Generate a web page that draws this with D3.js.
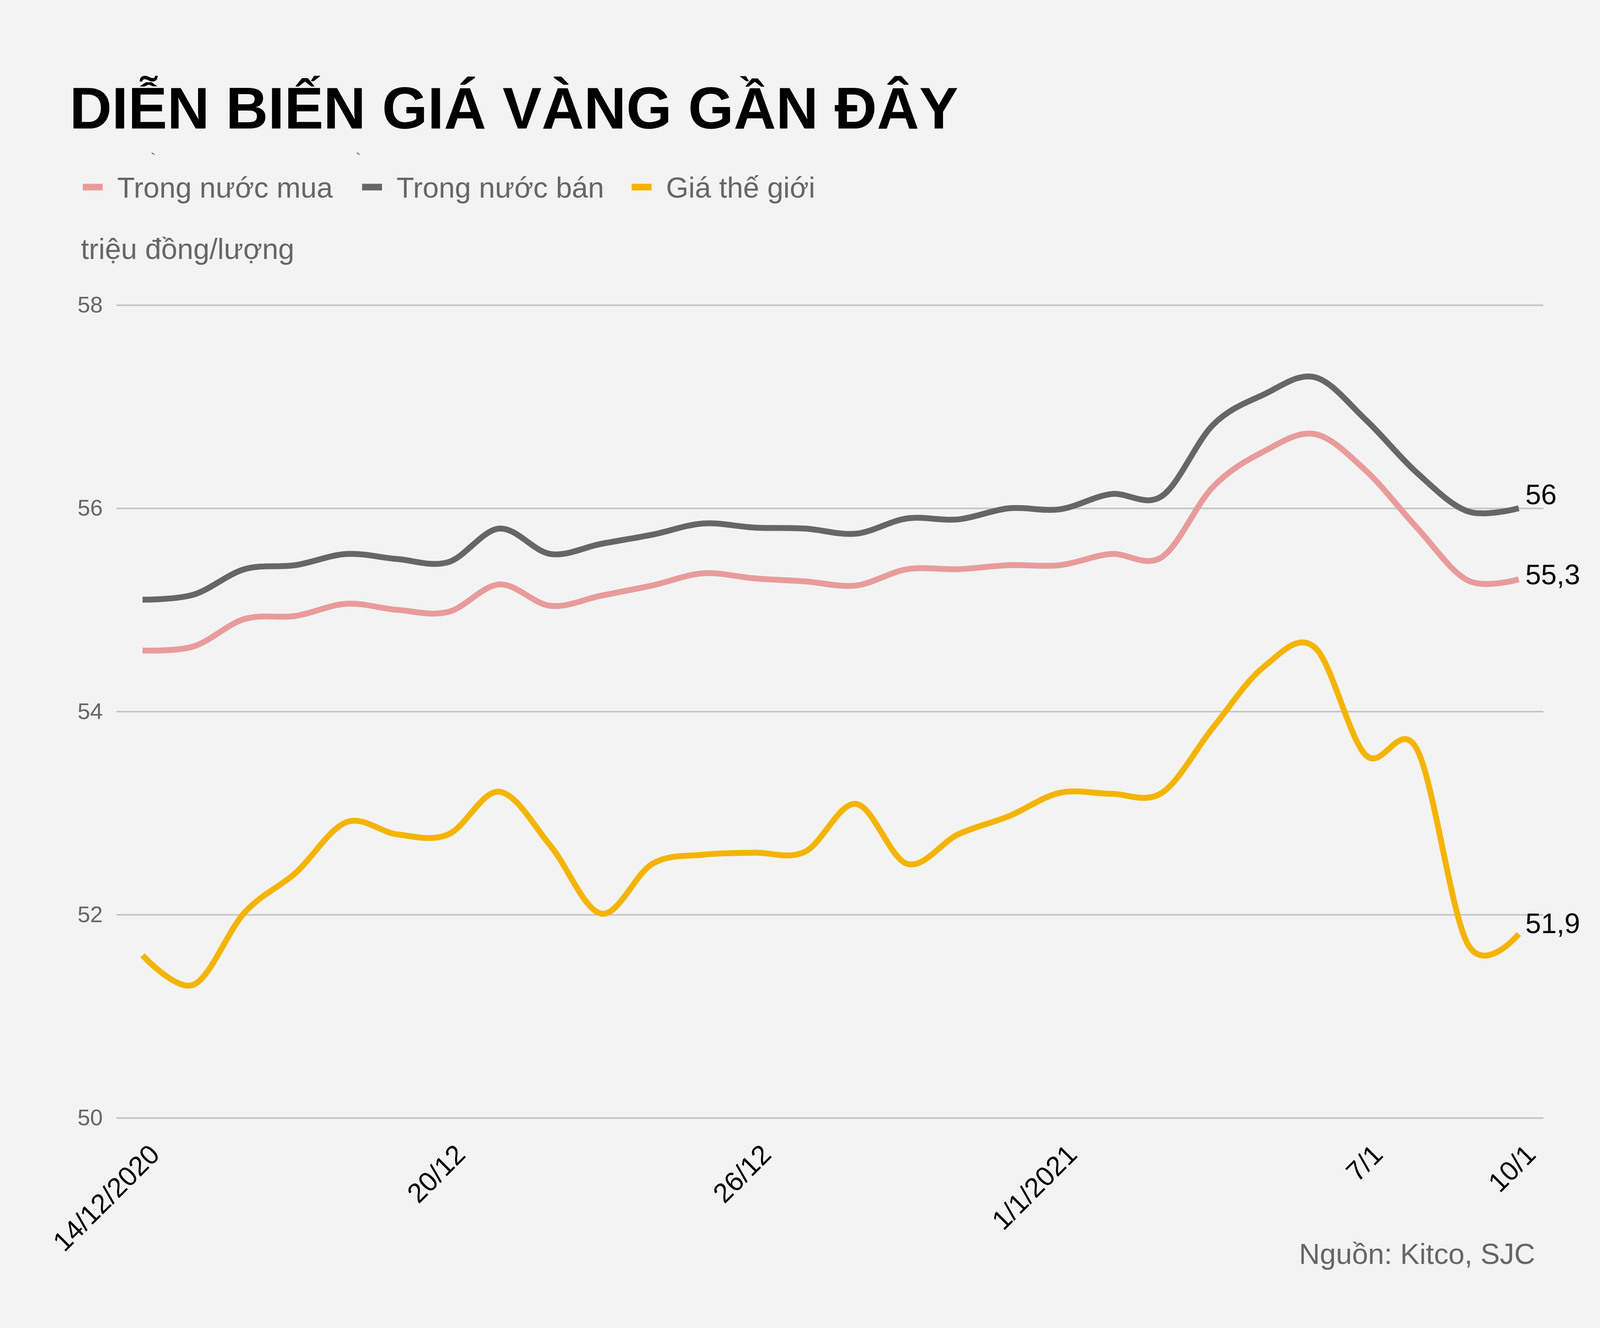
<!DOCTYPE html>
<html>
<head>
<meta charset="utf-8">
<script src="https://cdn.jsdelivr.net/npm/d3@7"></script>
<style>
  body { margin: 0; background: #f3f3f3; }
  svg { display: block; font-family: "Liberation Sans", Arial, sans-serif; }
</style>
</head>
<body>
<div class="viz"></div>
<script>
const width = 4175;
const height = 3400;

// one point per day, 14/12/2020 -> 10/1/2021
const days = [
  "14/12", "15/12", "16/12", "17/12", "18/12", "19/12", "20/12", "21/12",
  "22/12", "23/12", "24/12", "25/12", "26/12", "27/12", "28/12", "29/12",
  "30/12", "31/12", "1/1", "2/1", "3/1", "4/1", "5/1", "6/1", "7/1", "8/1",
  "9/1", "10/1"
];

const seriesNames = ["Trong nước mua", "Trong nước bán", "Giá thế giới"];

const muaValues = [
  54.6, 54.64, 54.91, 54.94, 55.06, 55.0, 54.98, 55.25, 55.04, 55.14,
  55.24, 55.36, 55.31, 55.28, 55.24, 55.4, 55.4, 55.44, 55.44, 55.55,
  55.52, 56.21, 56.56, 56.73, 56.37, 55.81, 55.29, 55.3
];

const banValues = [
  55.1, 55.15, 55.4, 55.44, 55.55, 55.5, 55.47, 55.8, 55.55, 55.65,
  55.74, 55.85, 55.81, 55.8, 55.75, 55.9, 55.89, 56.0, 55.99, 56.14,
  56.12, 56.82, 57.12, 57.29, 56.87, 56.35, 55.97, 56.0
];

const theGioiValues = [
  51.6, 51.31, 52.02, 52.41, 52.91, 52.79, 52.79, 53.21, 52.68, 52.01,
  52.5, 52.59, 52.61, 52.62, 53.09, 52.5, 52.79, 52.97, 53.2, 53.19,
  53.2, 53.84, 54.44, 54.63, 53.57, 53.63, 51.71, 51.81
];

const endLabels = ["55,3", "56", "51,9"];

const tickDays = ["14/12", "20/12", "26/12", "1/1", "7/1", "10/1"];
const tickLabels = ["14/12/2020", "20/12", "26/12", "1/1/2021", "7/1", "10/1"];
const yTicks = [50, 52, 54, 56, 58];

const colors = ["#e99b9b", "#666666", "#f4b400"];
const labelNudge = [13, -10, -2];

const series = [muaValues, banValues, theGioiValues].map((values, k) => ({
  name: seriesNames[k],
  color: colors[k],
  label: endLabels[k],
  nudge: labelNudge[k],
  values: values.map((v, i) => ({ day: days[i], value: v })),
}));

const svg = d3
  .select(".viz")
  .append("svg")
  .attr("width", width)
  .attr("height", height);

svg.append("rect").attr("width", width).attr("height", height).attr("fill", "#f3f3f3");

const gridLeft = 298;
const gridRight = 3951;

const x = d3.scalePoint().domain(days).range([365, 3888]);
const y = d3.scaleLinear().domain([50, 58]).range([2862, 781]);

// title
svg
  .append("text")
  .attr("x", 178)
  .attr("y", 329)
  .attr("font-size", 150)
  .attr("font-weight", "bold")
  .attr("fill", "#000")
  .text("DIỄN BIẾN GIÁ VÀNG GẦN ĐÂY");

// clipped accent marks left over from a hidden subtitle line
svg
  .append("g")
  .attr("fill", "#666")
  .selectAll("path")
  .data([387, 912])
  .join("path")
  .attr("d", (d) => `M${d},391 L${d + 4},391 L${d + 10},396 L${d + 6},396 Z`);

// legend
const legendX = [212, 927, 1617];
const legend = svg
  .append("g")
  .selectAll("g")
  .data(series)
  .join("g")
  .attr("transform", (d, i) => `translate(${legendX[i]}, 479)`);
legend
  .append("line")
  .attr("x1", 0)
  .attr("x2", 51)
  .attr("stroke", (d) => d.color)
  .attr("stroke-width", 17);
legend
  .append("text")
  .attr("x", 88)
  .attr("y", 27)
  .attr("font-size", 74)
  .attr("fill", "#666")
  .text((d) => d.name);

// unit
svg
  .append("text")
  .attr("x", 207)
  .attr("y", 663)
  .attr("font-size", 74)
  .attr("fill", "#666")
  .text("triệu đồng/lượng");

// y axis with grid
const yAxis = svg
  .append("g")
  .attr("transform", `translate(${gridLeft}, 0)`)
  .call(
    d3
      .axisLeft(y)
      .tickValues(yTicks)
      .tickSize(-(gridRight - gridLeft))
      .tickPadding(35)
  );
yAxis.select(".domain").remove();
yAxis.selectAll(".tick line").attr("stroke", "#c4c4c4").attr("stroke-width", 4);
yAxis
  .selectAll(".tick text")
  .attr("font-size", 58)
  .attr("fill", "#666")
  .attr("font-family", "Liberation Sans, Arial, sans-serif");

// x axis, rotated labels
const xAxis = svg
  .append("g")
  .attr("transform", `translate(0, 2862)`)
  .call(
    d3
      .axisBottom(x)
      .tickValues(tickDays)
      .tickFormat((d, i) => tickLabels[i])
      .tickSize(0)
  );
xAxis.select(".domain").remove();
xAxis
  .selectAll(".tick text")
  .attr("font-size", 70)
  .attr("fill", "#000")
  .attr("font-family", "Liberation Sans, Arial, sans-serif")
  .attr("text-anchor", "end")
  .attr("dy", null)
  .attr("y", 0)
  .attr("transform", "translate(47, 98) rotate(-45)");

// lines
const line = d3
  .line()
  .x((d) => x(d.day))
  .y((d) => y(d.value))
  .curve(d3.curveCardinal.tension(0));

svg
  .append("g")
  .selectAll("path")
  .data(series)
  .join("path")
  .attr("d", (d) => line(d.values))
  .attr("fill", "none")
  .attr("stroke", (d) => d.color)
  .attr("stroke-width", 15)
  .attr("stroke-linejoin", "round");

// end value labels
svg
  .append("g")
  .selectAll("text")
  .data(series)
  .join("text")
  .attr("x", (d) => x(days[days.length - 1]) + 17)
  .attr("y", (d) => y(d.values[d.values.length - 1].value) + d.nudge)
  .attr("font-size", 72)
  .attr("fill", "#000")
  .text((d) => d.label);

// source
svg
  .append("text")
  .attr("x", 3930)
  .attr("y", 3236)
  .attr("text-anchor", "end")
  .attr("font-size", 74)
  .attr("fill", "#666")
  .text("Nguồn: Kitco, SJC");
</script>
</body>
</html>
